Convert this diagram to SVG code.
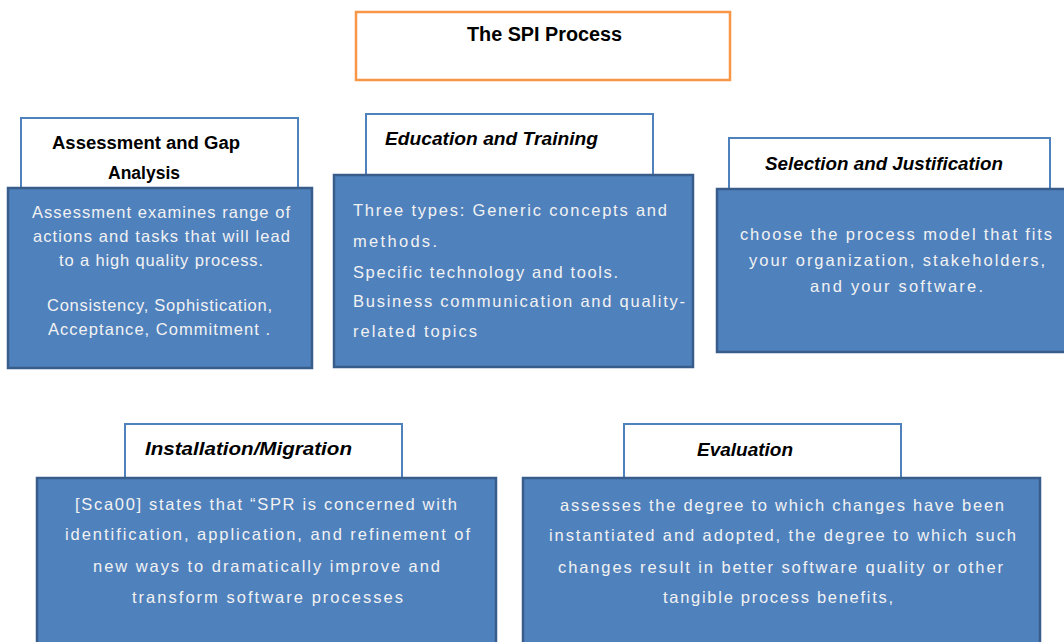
<svg xmlns="http://www.w3.org/2000/svg" width="1064" height="642" viewBox="0 0 1064 642">
<style>
.hdr{fill:#fff;stroke:#4F81BD;stroke-width:2}
.body{fill:#4F81BD;stroke:#385D8A;stroke-width:2.5}
.ht{font-family:"Liberation Sans",Arial,sans-serif;font-size:18px;font-weight:bold;fill:#000}
.hi{font-style:italic}
.bt{font-family:"Liberation Sans",Arial,sans-serif;font-size:16.5px;fill:#F2F2F2}
</style>
<rect width="1064" height="642" fill="#fff"/>
<g id="title">
<rect x="356" y="12" width="374" height="68" fill="#fff" stroke="#F79646" stroke-width="2.5"/>
<text x="467" y="41" class="ht" style="font-size:20px" textLength="155" lengthAdjust="spacingAndGlyphs">The SPI Process</text>
</g>
<g id="assessment">
<rect x="21" y="118" width="277" height="74" class="hdr"/>
<text class="ht"><tspan x="52" y="149" textLength="188" lengthAdjust="spacingAndGlyphs">Assessment and Gap</tspan></text>
<text class="ht"><tspan x="108" y="179" textLength="72" lengthAdjust="spacingAndGlyphs">Analysis</tspan></text>
<rect x="8" y="188" width="304" height="180" class="body"/>
<text class="bt" x="32" y="218" textLength="258" lengthAdjust="spacing">Assessment examines range of</text>
<text class="bt" x="33" y="242" textLength="257" lengthAdjust="spacing">actions and tasks that will lead</text>
<text class="bt" x="59" y="266" textLength="204" lengthAdjust="spacing">to a high quality process.</text>
<text class="bt" x="47" y="311" textLength="225" lengthAdjust="spacing">Consistency, Sophistication,</text>
<text class="bt" x="48" y="335" textLength="222" lengthAdjust="spacing">Acceptance, Commitment .</text>
</g>
<g id="education">
<rect x="366" y="114" width="287" height="64" class="hdr"/>
<text x="385" y="145" class="ht hi" textLength="213" lengthAdjust="spacingAndGlyphs">Education and Training</text>
<rect x="334" y="175" width="359" height="192" class="body"/>
<text class="bt" x="353" y="216" textLength="314" lengthAdjust="spacing">Three types:  Generic concepts and</text>
<text class="bt" x="353" y="247" textLength="84" lengthAdjust="spacing">methods.</text>
<text class="bt" x="353" y="278" textLength="265" lengthAdjust="spacing">Specific technology and tools.</text>
<text class="bt" x="353" y="307" textLength="332" lengthAdjust="spacing">Business communication and quality-</text>
<text class="bt" x="353" y="337" textLength="124" lengthAdjust="spacing">related topics</text>
</g>
<g id="selection">
<rect x="729" y="138" width="321" height="54" class="hdr"/>
<text x="765" y="170" class="ht hi" textLength="238" lengthAdjust="spacingAndGlyphs">Selection and Justification</text>
<rect x="717" y="189" width="350" height="163" class="body"/>
<text class="bt" x="740" y="240" textLength="312" lengthAdjust="spacing">choose the process model that fits</text>
<text class="bt" x="749" y="266" textLength="296" lengthAdjust="spacing">your organization, stakeholders,</text>
<text class="bt" x="810" y="292" textLength="173" lengthAdjust="spacing">and your software.</text>
</g>
<g id="installation">
<rect x="125" y="424" width="277" height="56" class="hdr"/>
<text x="145" y="455" class="ht hi" textLength="207" lengthAdjust="spacingAndGlyphs">Installation/Migration</text>
<rect x="37" y="478" width="459" height="170" class="body"/>
<text class="bt" x="75" y="510" textLength="382" lengthAdjust="spacing">[Sca00] states that “SPR is concerned with</text>
<text class="bt" x="65" y="540" textLength="405" lengthAdjust="spacing">identification, application, and refinement of</text>
<text class="bt" x="93" y="572" textLength="347" lengthAdjust="spacing">new ways to dramatically improve and</text>
<text class="bt" x="132" y="603" textLength="271" lengthAdjust="spacing">transform software processes</text>
</g>
<g id="evaluation">
<rect x="624" y="424" width="277" height="56" class="hdr"/>
<text x="697" y="456" class="ht hi" textLength="96" lengthAdjust="spacingAndGlyphs">Evaluation</text>
<rect x="523" y="478" width="517" height="170" class="body"/>
<text class="bt" x="560" y="511" textLength="444" lengthAdjust="spacing">assesses the degree to which changes have been</text>
<text class="bt" x="549" y="541" textLength="467" lengthAdjust="spacing">instantiated and adopted, the degree to which such</text>
<text class="bt" x="558" y="573" textLength="445" lengthAdjust="spacing">changes result in better software quality or other</text>
<text class="bt" x="663" y="603" textLength="230" lengthAdjust="spacing">tangible process benefits,</text>
</g>
<g id="connectors"/>
</svg>
